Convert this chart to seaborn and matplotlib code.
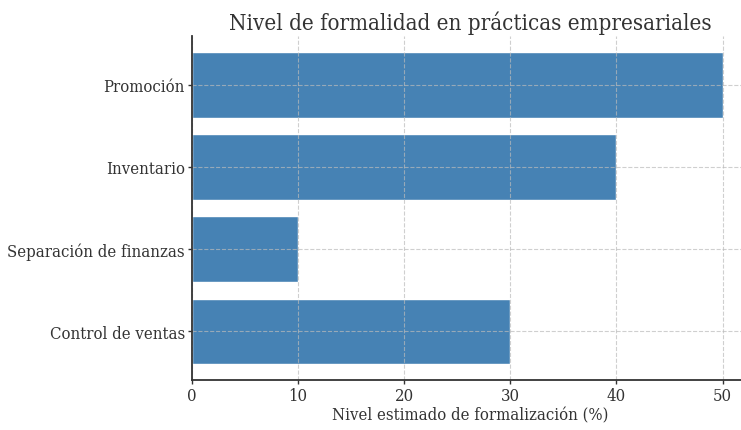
import matplotlib
matplotlib.use('Agg')
import matplotlib.pyplot as plt
import pandas as pd
import seaborn as sns

sns.set_theme(style='white')
plt.rcParams['font.family'] = ['DejaVu Serif']
plt.rcParams['font.stretch'] = 'condensed'

practicas = ['Promoción', 'Inventario', 'Separación de finanzas', 'Control de ventas']
niveles = [50, 40, 10, 30]

df = pd.DataFrame({'practica': practicas, 'nivel': niveles})

fig = plt.figure(figsize=(7.41, 4.31), dpi=100)
ax = fig.add_axes([0.259, 0.116, 1.011 - 0.259, 0.914 - 0.116])

sns.barplot(data=df, x='nivel', y='practica', color='steelblue',
            saturation=1, width=0.8, ax=ax)

# matplotlib-style margins instead of seaborn's tight category limits
ax.set_ylim(3.59, -0.59)
ax.set_xlim(0, 52.5)
ax.set_title('Nivel de formalidad en prácticas empresariales', fontsize=16,
             color='#333333', pad=5)
ax.set_xlabel('Nivel estimado de formalización (%)', fontsize=12,
              color='#333333', labelpad=2)
ax.set_ylabel('')
ax.tick_params(axis='both', labelsize=12, colors='#333333', length=3,
               width=1, direction='out', left=True, bottom=True, pad=2)
ax.grid(True, linestyle='--', color='#bbbbbb', linewidth=0.8, alpha=0.7)
ax.set_axisbelow(False)
for b in ax.patches:
    b.set_zorder(1)
for line in ax.get_xgridlines() + ax.get_ygridlines():
    line.set_zorder(2)
for side in ['top', 'right']:
    ax.spines[side].set_visible(False)
for side in ['left', 'bottom']:
    ax.spines[side].set_color('#333333')
    ax.spines[side].set_linewidth(1.3)
    ax.spines[side].set_zorder(3)

plt.savefig('out.png', dpi=100)
